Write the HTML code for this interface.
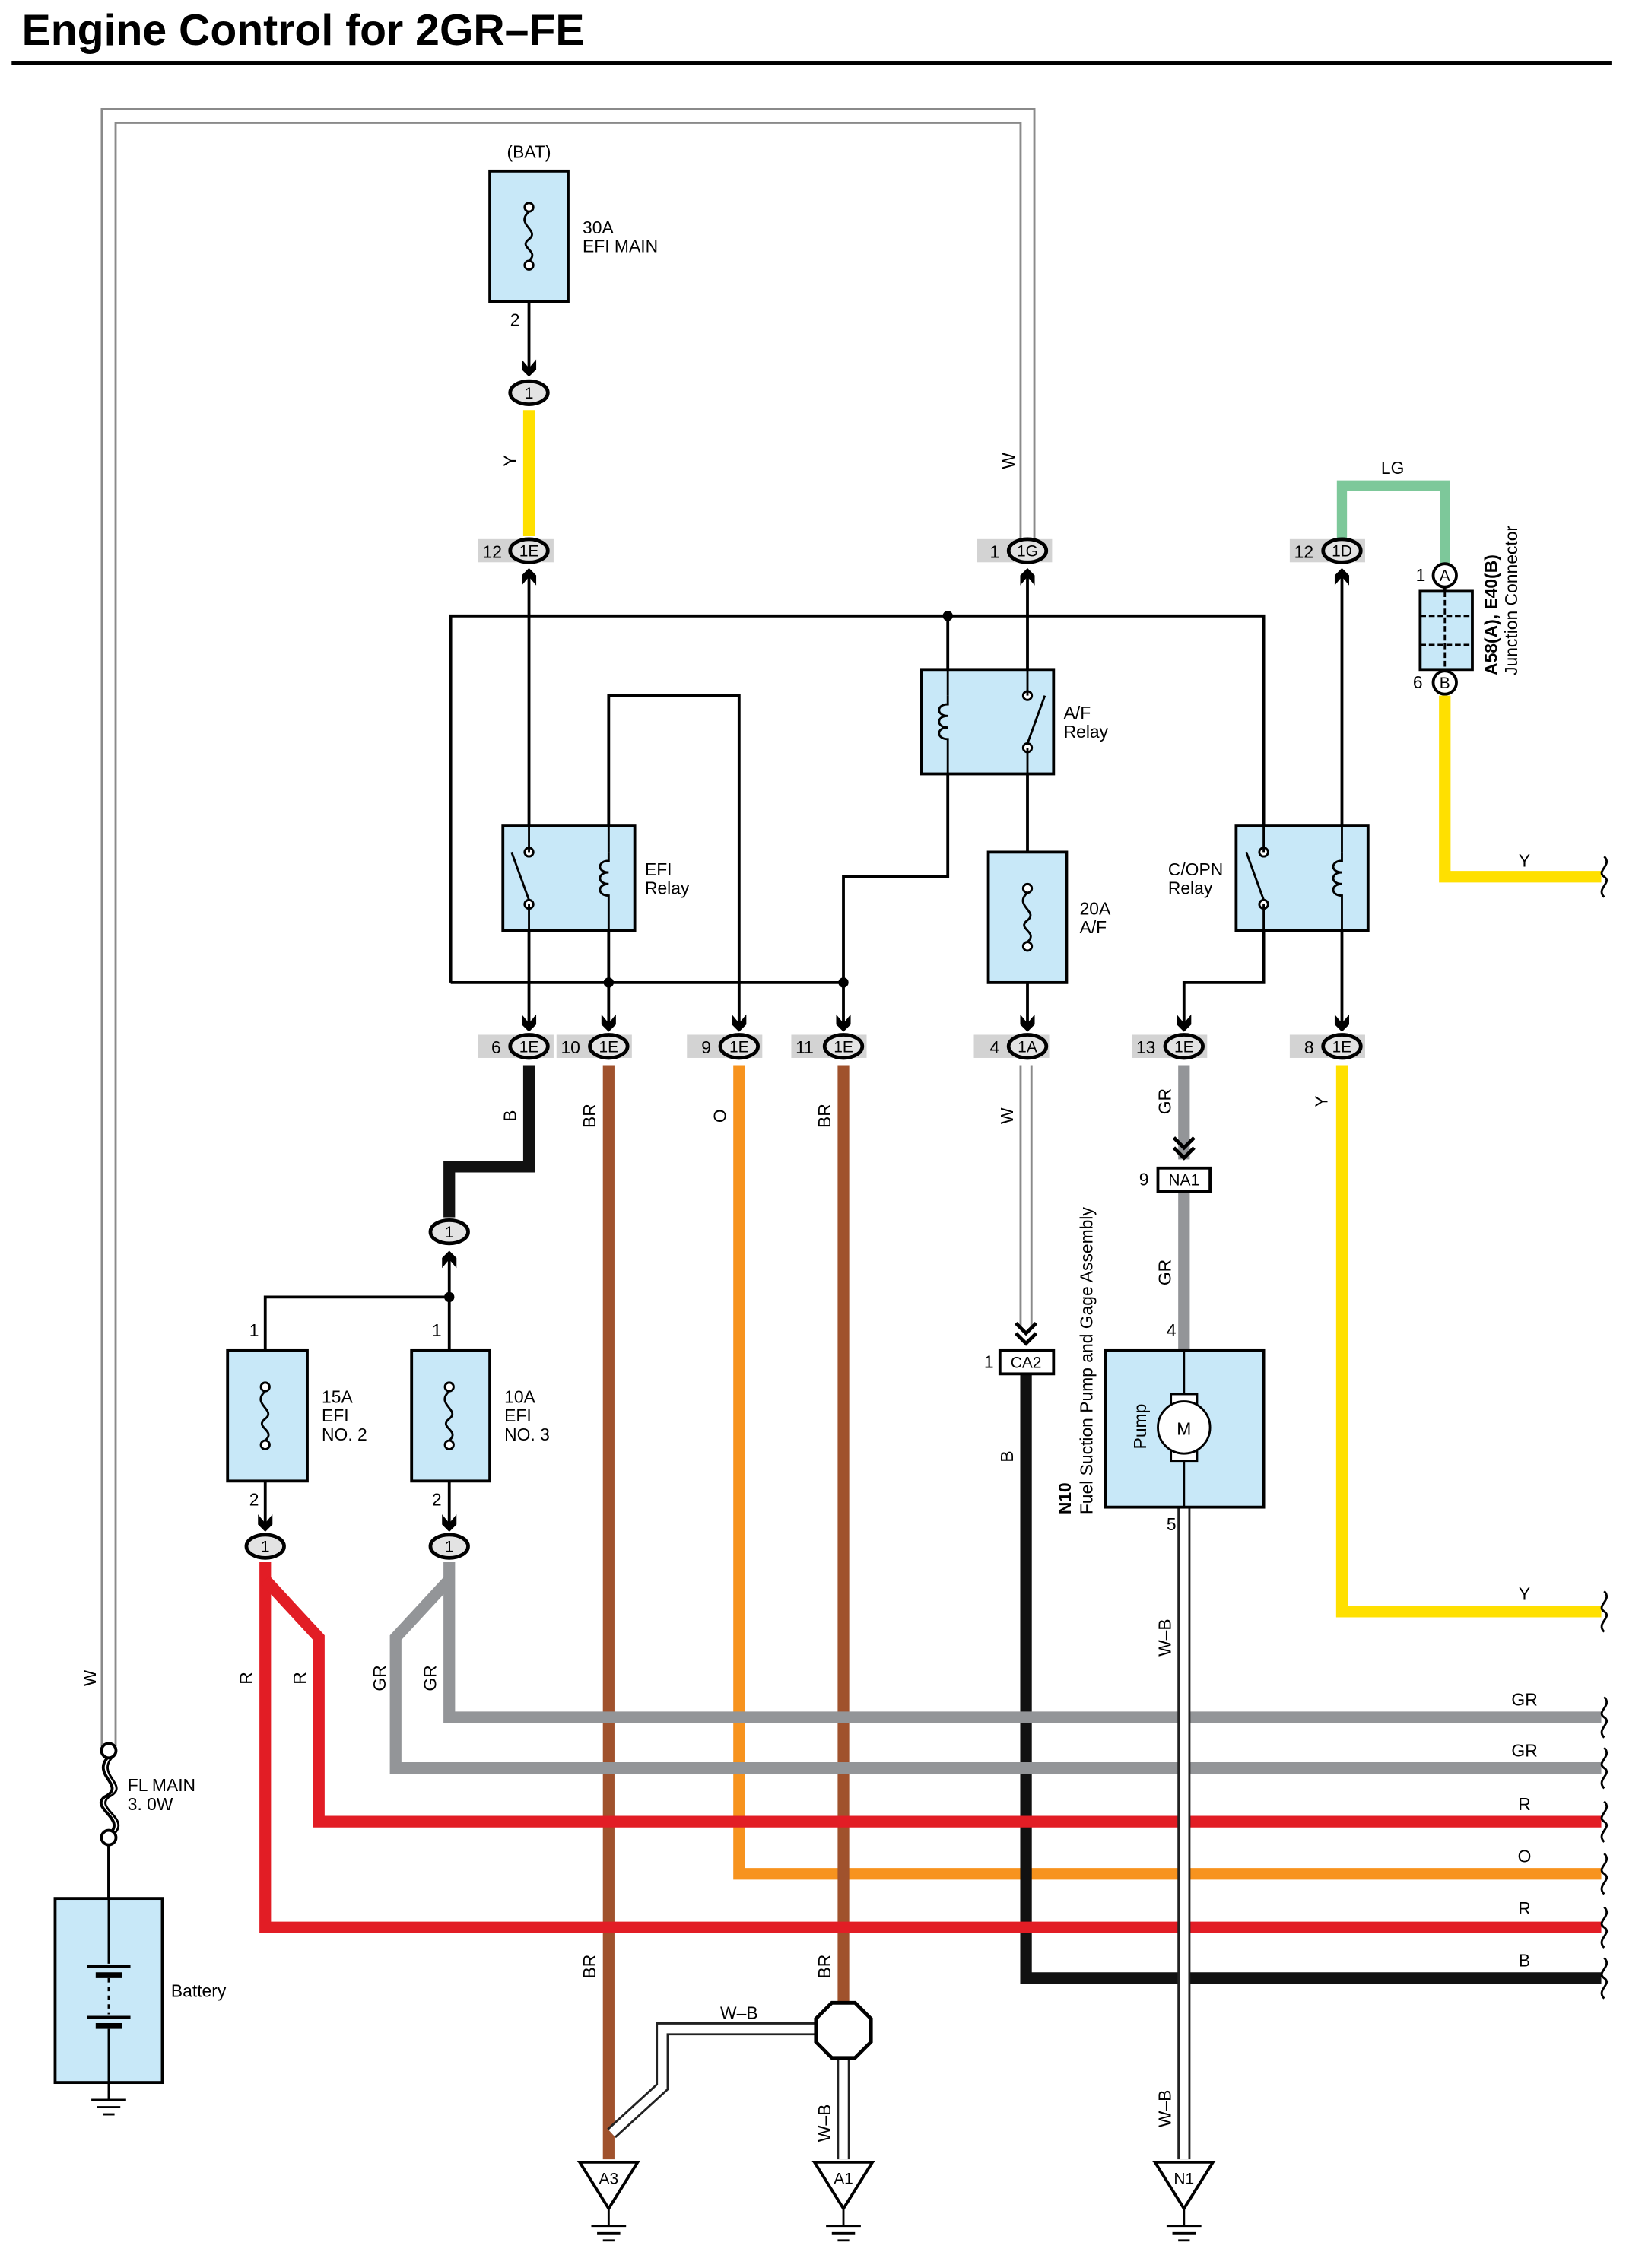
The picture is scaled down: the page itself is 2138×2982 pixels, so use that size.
<!DOCTYPE html>
<html><head><meta charset="utf-8"><style>
html,body{margin:0;padding:0;background:#fff}
svg{display:block}
text{font-family:"Liberation Sans",sans-serif}
</style></head><body>
<svg width="2138" height="2982" viewBox="0 0 1122 1565" xmlns="http://www.w3.org/2000/svg">
<defs>
<g id="ad"><path d="M-5,-9 L0,-3 L5,-9 L5,-2 L0,3 L-5,-2Z" fill="#000"/></g>
<g id="au"><path d="M-5,9 L0,3 L5,9 L5,2 L0,-3 L-5,2Z" fill="#000"/></g>
<g id="fuse"><circle cx="0" cy="-20" r="3" fill="#fff" stroke="#000" stroke-width="1.5"/><circle cx="0" cy="20" r="3" fill="#fff" stroke="#000" stroke-width="1.5"/><path d="M0,-17 C-10,-8 8,-4 0,2 C-8,8 8,10 0,17" fill="none" stroke="#000" stroke-width="1.5"/></g>
<g id="gnd"><line x1="0" y1="0" x2="0" y2="12" stroke="#000" stroke-width="1.5"/><line x1="-12" y1="12" x2="12" y2="12" stroke="#000" stroke-width="1.5"/><line x1="-8" y1="17" x2="8" y2="17" stroke="#000" stroke-width="1.5"/><line x1="-4" y1="22" x2="4" y2="22" stroke="#000" stroke-width="1.5"/></g>
<g id="coil"><path d="M0,-18 L0,-12 C-8,-12 -8,-4 0,-4 C-8,-4 -8,4 0,4 C-8,4 -8,12 0,12 L0,18" fill="none" stroke="#000" stroke-width="1.5"/></g>
<g id="sw"><circle cx="0" cy="-18" r="3" fill="#fff" stroke="#000" stroke-width="1.5"/><circle cx="0" cy="18" r="3" fill="#fff" stroke="#000" stroke-width="1.5"/><line x1="0" y1="15" x2="-12" y2="-18" stroke="#000" stroke-width="1.5"/></g>
<g id="wave"><path d="M0,-14 C6,-8 -6,-4 0,0 C6,4 -6,8 0,14" fill="none" stroke="#000" stroke-width="1.5"/></g>
</defs>

<text x="15" y="31" font-size="30" font-weight="bold">Engine Control for 2GR–FE</text>
<rect x="8" y="42" width="1104" height="3" fill="#000"/>

<g font-size="12" fill="#000">
<!-- W outer double wire -->
<path d="M75,1205 L75,80 L709,80 L709,372" fill="none" stroke="#8a8a8a" stroke-width="11"/>
<path d="M75,1205 L75,80 L709,80 L709,372" fill="none" stroke="#fff" stroke-width="8"/>
<text transform="translate(66,1158) rotate(-90)" text-anchor="middle">W</text>
<text transform="translate(700,318) rotate(-90)" text-anchor="middle">W</text>

<!-- BAT fuse -->
<text x="365" y="109" text-anchor="middle">(BAT)</text>
<rect x="338" y="118" width="54" height="90" fill="#c8e8f8" stroke="#000" stroke-width="2"/>
<use href="#fuse" x="365" y="163"/>
<text x="402" y="161">30A</text><text x="402" y="174">EFI MAIN</text>
<text x="352" y="225">2</text>
<line x1="365" y1="208" x2="365" y2="258" stroke="#000" stroke-width="2"/>
<use href="#ad" x="365" y="257"/>
<line x1="365" y1="283" x2="365" y2="370" stroke="#ffe000" stroke-width="8"/>
<text transform="translate(356,318) rotate(-90)" text-anchor="middle">Y</text>

<!-- LG and junction -->
<path d="M926,372 L926,335 L997,335 L997,390" fill="none" stroke="#7dc89a" stroke-width="7"/>
<text x="961" y="327" text-anchor="middle">LG</text>
<rect x="980" y="408" width="36" height="54" fill="#c8e8f8" stroke="#000" stroke-width="2"/>
<line x1="980" y1="425" x2="1016" y2="425" stroke="#000" stroke-width="1.5" stroke-dasharray="4,2"/>
<line x1="980" y1="445" x2="1016" y2="445" stroke="#000" stroke-width="1.5" stroke-dasharray="4,2"/>
<line x1="997" y1="408" x2="997" y2="462" stroke="#000" stroke-width="1.5" stroke-dasharray="4,2"/>
<line x1="997" y1="404" x2="997" y2="408" stroke="#000" stroke-width="2"/>
<circle cx="997" cy="397" r="8" fill="#fff" stroke="#000" stroke-width="2"/><text x="997" y="401" text-anchor="middle" font-size="11">A</text>
<circle cx="997" cy="471" r="8" fill="#fff" stroke="#000" stroke-width="2"/><text x="997" y="475" text-anchor="middle" font-size="11">B</text>
<text x="977" y="401">1</text><text x="975" y="475">6</text>
<text transform="translate(1033,466) rotate(-90)" font-weight="bold">A58(A), E40(B)</text>
<text transform="translate(1047,466) rotate(-90)">Junction Connector</text>
<path d="M997,480 L997,605 L1105,605" fill="none" stroke="#ffe000" stroke-width="8"/>
<text x="1052" y="598" text-anchor="middle">Y</text>
<use href="#wave" x="1107" y="605"/>

<!-- top connectors -->
<g>
<rect x="330" y="372" width="52" height="16" fill="#d3d3d3"/><text x="333" y="385">12</text>
<ellipse cx="365" cy="380" rx="13" ry="8" fill="#e3e3e3" stroke="#000" stroke-width="2.5"/><text x="365" y="384" text-anchor="middle" font-size="11">1E</text>
<rect x="674" y="372" width="52" height="16" fill="#d3d3d3"/><text x="683" y="385">1</text>
<ellipse cx="709" cy="380" rx="13" ry="8" fill="#e3e3e3" stroke="#000" stroke-width="2.5"/><text x="709" y="384" text-anchor="middle" font-size="11">1G</text>
<rect x="890" y="372" width="52" height="16" fill="#d3d3d3"/><text x="893" y="385">12</text>
<ellipse cx="926" cy="380" rx="13" ry="8" fill="#e3e3e3" stroke="#000" stroke-width="2.5"/><text x="926" y="384" text-anchor="middle" font-size="11">1D</text>
</g>
<use href="#au" x="365" y="395"/><use href="#au" x="709" y="395"/><use href="#au" x="926" y="395"/>

<!-- control wiring -->
<g fill="none" stroke="#000" stroke-width="2">
<path d="M311,678 L311,425 L872,425 L872,570"/>
<line x1="365" y1="395" x2="365" y2="570"/>
<line x1="311" y1="678" x2="582" y2="678"/>
<path d="M420,570 L420,480 L510,480 L510,708"/>
<line x1="365" y1="642" x2="365" y2="708"/>
<line x1="420" y1="642" x2="420" y2="708"/>
<path d="M654,425 L654,462"/>
<path d="M654,534 L654,605 L582,605 L582,708"/>
<line x1="709" y1="395" x2="709" y2="462"/>
<line x1="709" y1="534" x2="709" y2="588"/>
<line x1="709" y1="678" x2="709" y2="708"/>
<path d="M872,642 L872,678 L817,678 L817,708"/>
<line x1="926" y1="395" x2="926" y2="570"/>
<line x1="926" y1="642" x2="926" y2="708"/>
</g>
<circle cx="654" cy="425" r="3.5"/><circle cx="420" cy="678" r="3.5"/><circle cx="582" cy="678" r="3.5"/>

<!-- relays -->
<rect x="347" y="570" width="91" height="72" fill="#c8e8f8" stroke="#000" stroke-width="2"/>
<use href="#sw" x="365" y="606"/><use href="#coil" x="420" y="606"/>
<line x1="365" y1="570" x2="365" y2="588" stroke="#000" stroke-width="1.5"/><line x1="365" y1="624" x2="365" y2="642" stroke="#000" stroke-width="1.5"/>
<line x1="420" y1="570" x2="420" y2="588" stroke="#000" stroke-width="1.5"/><line x1="420" y1="624" x2="420" y2="642" stroke="#000" stroke-width="1.5"/>
<text x="445" y="604">EFI</text><text x="445" y="617">Relay</text>

<rect x="636" y="462" width="91" height="72" fill="#c8e8f8" stroke="#000" stroke-width="2"/>
<use href="#coil" x="654" y="498"/><use href="#sw" x="709" y="498" transform="translate(1418,0) scale(-1,1)"/>
<line x1="654" y1="462" x2="654" y2="480" stroke="#000" stroke-width="1.5"/><line x1="654" y1="516" x2="654" y2="534" stroke="#000" stroke-width="1.5"/>
<line x1="709" y1="462" x2="709" y2="480" stroke="#000" stroke-width="1.5"/><line x1="709" y1="516" x2="709" y2="534" stroke="#000" stroke-width="1.5"/>
<text x="734" y="496">A/F</text><text x="734" y="509">Relay</text>

<rect x="682" y="588" width="54" height="90" fill="#c8e8f8" stroke="#000" stroke-width="2"/>
<use href="#fuse" x="709" y="633"/>
<text x="745" y="631">20A</text><text x="745" y="644">A/F</text>

<rect x="853" y="570" width="91" height="72" fill="#c8e8f8" stroke="#000" stroke-width="2"/>
<use href="#sw" x="872" y="606"/><use href="#coil" x="926" y="606"/>
<line x1="872" y1="570" x2="872" y2="588" stroke="#000" stroke-width="1.5"/><line x1="872" y1="624" x2="872" y2="642" stroke="#000" stroke-width="1.5"/>
<line x1="926" y1="570" x2="926" y2="588" stroke="#000" stroke-width="1.5"/><line x1="926" y1="624" x2="926" y2="642" stroke="#000" stroke-width="1.5"/>
<text x="806" y="604">C/OPN</text><text x="806" y="617">Relay</text>

<!-- lower wires -->
<g fill="none" stroke-linejoin="miter">
<path d="M365,735 L365,805 L310,805 L310,840" stroke="#111" stroke-width="8"/>
<line x1="420" y1="735" x2="420" y2="1490" stroke="#a0522d" stroke-width="8"/>
<path d="M510,735 L510,1293 L1105,1293" stroke="#f7931e" stroke-width="8"/>
<line x1="582" y1="735" x2="582" y2="1382" stroke="#a0522d" stroke-width="8"/>
<path d="M708,948 L708,1365 L1105,1365" stroke="#111" stroke-width="8"/>
<path d="M817,735 L817,800" stroke="#939598" stroke-width="8"/>
<path d="M817,822 L817,932" stroke="#939598" stroke-width="8"/>
<path d="M926,735 L926,1112 L1105,1112" stroke="#ffe000" stroke-width="8"/>
<path d="M183,1078 L183,1330 L1105,1330" stroke="#e21d25" stroke-width="8"/>
<path d="M183,1090 L220,1130 L220,1257 L1105,1257" stroke="#e21d25" stroke-width="8"/>
<path d="M310,1078 L310,1185 L1105,1185" stroke="#939598" stroke-width="8"/>
<path d="M310,1090 L273,1130 L273,1220 L1105,1220" stroke="#939598" stroke-width="8"/>
<!-- W double 708 -->
<path d="M708,735 L708,915" stroke="#8a8a8a" stroke-width="9"/><path d="M708,735 L708,915" stroke="#fff" stroke-width="6"/>
<!-- W-B pump -->
<path d="M817,1040 L817,1490" stroke="#222" stroke-width="9"/><path d="M817,1040 L817,1490" stroke="#fff" stroke-width="6"/>
<!-- W-B junction -->
<path d="M562,1400 L457,1400 L457,1440 L422,1472" stroke="#222" stroke-width="9"/><path d="M562,1400 L457,1400 L457,1440 L422,1472" stroke="#fff" stroke-width="6"/>
<path d="M582,1420 L582,1490" stroke="#222" stroke-width="9"/><path d="M582,1420 L582,1490" stroke="#fff" stroke-width="6"/>
</g>
<g>
<use href="#wave" x="1107" y="1112"/><use href="#wave" x="1107" y="1185"/><use href="#wave" x="1107" y="1220"/>
<use href="#wave" x="1107" y="1257"/><use href="#wave" x="1107" y="1293"/><use href="#wave" x="1107" y="1330"/><use href="#wave" x="1107" y="1365"/>
</g>
<g text-anchor="middle">
<text x="1052" y="1104">Y</text><text x="1052" y="1177">GR</text><text x="1052" y="1212">GR</text><text x="1052" y="1249">R</text>
<text x="1052" y="1285">O</text><text x="1052" y="1321">R</text><text x="1052" y="1357">B</text>
<text x="510" y="1393">W–B</text>
</g>
<g text-anchor="middle">
<text transform="translate(356,770) rotate(-90)">B</text>
<text transform="translate(411,770) rotate(-90)">BR</text>
<text transform="translate(501,770) rotate(-90)">O</text>
<text transform="translate(573,770) rotate(-90)">BR</text>
<text transform="translate(699,770) rotate(-90)">W</text>
<text transform="translate(808,760) rotate(-90)">GR</text>
<text transform="translate(916,760) rotate(-90)">Y</text>
<text transform="translate(808,878) rotate(-90)">GR</text>
<text transform="translate(699,1005) rotate(-90)">B</text>
<text transform="translate(808,1130) rotate(-90)">W–B</text>
<text transform="translate(411,1357) rotate(-90)">BR</text>
<text transform="translate(573,1357) rotate(-90)">BR</text>
<text transform="translate(808,1455) rotate(-90)">W–B</text>
<text transform="translate(573,1465) rotate(-90)">W–B</text>
<text transform="translate(174,1158) rotate(-90)">R</text>
<text transform="translate(211,1158) rotate(-90)">R</text>
<text transform="translate(266,1158) rotate(-90)">GR</text>
<text transform="translate(301,1158) rotate(-90)">GR</text>
</g>

<!-- bottom connectors -->
<g>
<rect x="330" y="714" width="52" height="16" fill="#d3d3d3"/><text x="339" y="727">6</text>
<ellipse cx="365" cy="722" rx="13" ry="8" fill="#e3e3e3" stroke="#000" stroke-width="2.5"/><text x="365" y="726" text-anchor="middle" font-size="11">1E</text>
<rect x="384" y="714" width="52" height="16" fill="#d3d3d3"/><text x="387" y="727">10</text>
<ellipse cx="420" cy="722" rx="13" ry="8" fill="#e3e3e3" stroke="#000" stroke-width="2.5"/><text x="420" y="726" text-anchor="middle" font-size="11">1E</text>
<rect x="474" y="714" width="52" height="16" fill="#d3d3d3"/><text x="484" y="727">9</text>
<ellipse cx="510" cy="722" rx="13" ry="8" fill="#e3e3e3" stroke="#000" stroke-width="2.5"/><text x="510" y="726" text-anchor="middle" font-size="11">1E</text>
<rect x="546" y="714" width="52" height="16" fill="#d3d3d3"/><text x="549" y="727">11</text>
<ellipse cx="582" cy="722" rx="13" ry="8" fill="#e3e3e3" stroke="#000" stroke-width="2.5"/><text x="582" y="726" text-anchor="middle" font-size="11">1E</text>
<rect x="672" y="714" width="52" height="16" fill="#d3d3d3"/><text x="683" y="727">4</text>
<ellipse cx="709" cy="722" rx="13" ry="8" fill="#e3e3e3" stroke="#000" stroke-width="2.5"/><text x="709" y="726" text-anchor="middle" font-size="11">1A</text>
<rect x="781" y="714" width="52" height="16" fill="#d3d3d3"/><text x="784" y="727">13</text>
<ellipse cx="817" cy="722" rx="13" ry="8" fill="#e3e3e3" stroke="#000" stroke-width="2.5"/><text x="817" y="726" text-anchor="middle" font-size="11">1E</text>
<rect x="890" y="714" width="52" height="16" fill="#d3d3d3"/><text x="900" y="727">8</text>
<ellipse cx="926" cy="722" rx="13" ry="8" fill="#e3e3e3" stroke="#000" stroke-width="2.5"/><text x="926" y="726" text-anchor="middle" font-size="11">1E</text>
</g>
<use href="#ad" x="365" y="709"/><use href="#ad" x="420" y="709"/><use href="#ad" x="510" y="709"/><use href="#ad" x="582" y="709"/>
<use href="#ad" x="709" y="709"/><use href="#ad" x="817" y="709"/><use href="#ad" x="926" y="709"/>

<!-- NA1 / CA2 -->
<path d="M810,785 L817,792 L824,785 M810,792 L817,799 L824,792" fill="none" stroke="#000" stroke-width="2.5"/>
<rect x="799" y="806" width="36" height="16" fill="#fff" stroke="#000" stroke-width="2"/><text x="817" y="818" text-anchor="middle" font-size="11">NA1</text>
<text x="786" y="818">9</text>
<path d="M701,913 L708,920 L715,913 M701,920 L708,927 L715,920" fill="none" stroke="#000" stroke-width="2.5"/>
<rect x="690" y="932" width="37" height="16" fill="#fff" stroke="#000" stroke-width="2"/><text x="708" y="944" text-anchor="middle" font-size="11">CA2</text>
<text x="679" y="944">1</text>

<!-- pump -->
<rect x="763" y="932" width="109" height="108" fill="#c8e8f8" stroke="#000" stroke-width="2"/>
<line x1="817" y1="932" x2="817" y2="962" stroke="#000" stroke-width="1.5"/><line x1="817" y1="1008" x2="817" y2="1040" stroke="#000" stroke-width="1.5"/>
<rect x="808" y="962" width="18" height="8" fill="#fff" stroke="#000" stroke-width="1.5"/>
<rect x="808" y="1000" width="18" height="8" fill="#fff" stroke="#000" stroke-width="1.5"/>
<circle cx="817" cy="985" r="18" fill="#fff" stroke="#000" stroke-width="1.5"/>
<text x="817" y="990" text-anchor="middle">M</text>
<text transform="translate(791,1000) rotate(-90)">Pump</text>
<text x="805" y="922">4</text><text x="805" y="1056">5</text>
<text transform="translate(739,1045) rotate(-90)" font-weight="bold">N10</text>
<text transform="translate(754,1045) rotate(-90)">Fuel Suction Pump and Gage Assembly</text>

<!-- EFI fuses -->
<ellipse cx="310" cy="850" rx="13" ry="8" fill="#e3e3e3" stroke="#000" stroke-width="2.5"/><text x="310" y="854" text-anchor="middle" font-size="11">1</text>
<use href="#au" x="310" y="866"/>
<path d="M310,866 L310,932 M310,895 L183,895 L183,932" fill="none" stroke="#000" stroke-width="2"/>
<circle cx="310" cy="895" r="3.5"/>
<rect x="157" y="932" width="55" height="90" fill="#c8e8f8" stroke="#000" stroke-width="2"/>
<use href="#fuse" x="183" y="977"/>
<rect x="284" y="932" width="54" height="90" fill="#c8e8f8" stroke="#000" stroke-width="2"/>
<use href="#fuse" x="310" y="977"/>
<text x="172" y="922">1</text><text x="298" y="922">1</text>
<text x="222" y="968">15A</text><text x="222" y="981">EFI</text><text x="222" y="994">NO. 2</text>
<text x="348" y="968">10A</text><text x="348" y="981">EFI</text><text x="348" y="994">NO. 3</text>
<text x="172" y="1039">2</text><text x="298" y="1039">2</text>
<line x1="183" y1="1022" x2="183" y2="1056" stroke="#000" stroke-width="2"/><line x1="310" y1="1022" x2="310" y2="1056" stroke="#000" stroke-width="2"/>
<use href="#ad" x="183" y="1054"/><use href="#ad" x="310" y="1054"/>
<ellipse cx="183" cy="1067" rx="13" ry="8" fill="#e3e3e3" stroke="#000" stroke-width="2.5"/><text x="183" y="1071" text-anchor="middle" font-size="11">1</text>
<ellipse cx="310" cy="1067" rx="13" ry="8" fill="#e3e3e3" stroke="#000" stroke-width="2.5"/><text x="310" y="1071" text-anchor="middle" font-size="11">1</text>
<ellipse cx="310" cy="271" rx="0" ry="0"/>
<ellipse cx="365" cy="271" rx="13" ry="8" fill="#e3e3e3" stroke="#000" stroke-width="2.5"/><text x="365" y="275" text-anchor="middle" font-size="11">1</text>

<!-- junction octagon -->
<polygon points="574,1382 590,1382 601,1393 601,1409 590,1420 574,1420 563,1409 563,1393" fill="#fff" stroke="#000" stroke-width="2.5"/>

<!-- grounds -->
<g>
<polygon points="400,1492 440,1492 420,1524" fill="#fff" stroke="#000" stroke-width="2"/><text x="420" y="1507" text-anchor="middle" font-size="11">A3</text>
<use href="#gnd" x="420" y="1524"/>
<polygon points="562,1492 602,1492 582,1524" fill="#fff" stroke="#000" stroke-width="2"/><text x="582" y="1507" text-anchor="middle" font-size="11">A1</text>
<use href="#gnd" x="582" y="1524"/>
<polygon points="797,1492 837,1492 817,1524" fill="#fff" stroke="#000" stroke-width="2"/><text x="817" y="1507" text-anchor="middle" font-size="11">N1</text>
<use href="#gnd" x="817" y="1524"/>
</g>

<!-- FL main and battery -->
<line x1="75" y1="1210" x2="75" y2="1310" stroke="#000" stroke-width="2"/>
<rect x="68" y="1212" width="14" height="54" fill="#fff"/>
<path d="M75,1212 C62,1225 88,1232 72,1240 C62,1248 88,1255 75,1266" fill="none" stroke="#000" stroke-width="2"/>
<path d="M78,1212 C65,1225 91,1232 75,1240 C65,1248 91,1255 78,1266" fill="none" stroke="#000" stroke-width="1.5"/>
<circle cx="75" cy="1208" r="5" fill="#fff" stroke="#000" stroke-width="2"/>
<circle cx="75" cy="1268" r="5" fill="#fff" stroke="#000" stroke-width="2"/>
<text x="88" y="1236">FL MAIN</text><text x="88" y="1249">3. 0W</text>
<rect x="38" y="1310" width="74" height="127" fill="#c8e8f8" stroke="#000" stroke-width="2"/>
<line x1="75" y1="1310" x2="75" y2="1355" stroke="#000" stroke-width="1.5"/>
<line x1="60" y1="1357" x2="90" y2="1357" stroke="#000" stroke-width="2"/>
<line x1="66" y1="1363" x2="84" y2="1363" stroke="#000" stroke-width="4"/>
<line x1="75" y1="1365" x2="75" y2="1390" stroke="#000" stroke-width="1.5" stroke-dasharray="3,3"/>
<line x1="60" y1="1392" x2="90" y2="1392" stroke="#000" stroke-width="2"/>
<line x1="66" y1="1398" x2="84" y2="1398" stroke="#000" stroke-width="4"/>
<line x1="75" y1="1400" x2="75" y2="1437" stroke="#000" stroke-width="1.5"/>
<text x="118" y="1378">Battery</text>
<use href="#gnd" x="75" y="1437"/>
</g>
</svg>
</body></html>
